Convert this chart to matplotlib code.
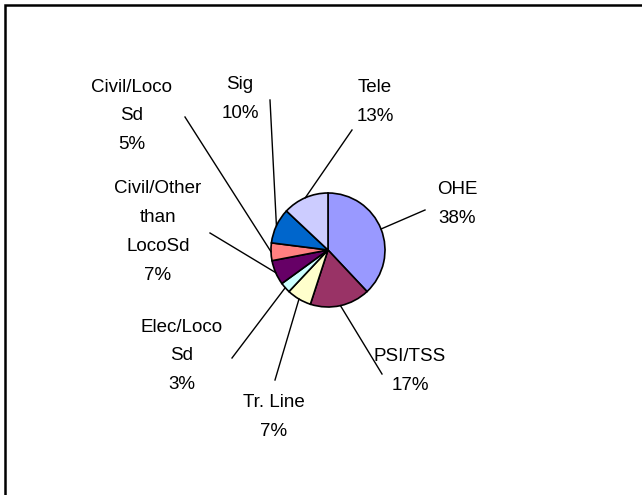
import numpy as np
import matplotlib.pyplot as plt

labels = ["OHE", "PSI/TSS", "Tr. Line", "Elec/Loco\nSd", "Civil/Other\nthan\nLocoSd",
          "Civil/Loco\nSd", "Sig", "Tele"]
shares = [38, 17, 7, 3, 7, 5, 10, 13]
colors = ["#9999FF", "#993366", "#FFFFCC", "#CCFFFF", "#660066", "#FF8080", "#0066CC", "#CCCCFF"]

W, H = 642, 495
# label centres and leader start points, in pixel coords (y from top)
label_pos = [(457, 204), (410, 371), (274, 417), (182, 356), (158, 232), (132, 116), (240, 99), (375, 102)]
leader_start = [(425, 210), (382, 374), (275, 380), (232, 358), (210, 233), (185, 117), (270, 100), (352, 130)]

cx, cy, r = 328, 250, 57


def fy(y):
    return H - y


fig = plt.figure(figsize=(W / 100, H / 100), dpi=100)
ax = fig.add_axes([0, 0, 1, 1])

ax.pie(shares, colors=colors, startangle=90, counterclock=False, center=(cx, fy(cy)), radius=r,
       wedgeprops=dict(edgecolor="black", linewidth=1.2), frame=True)
ax.set_xlim(0, W)
ax.set_ylim(0, H)
ax.set_aspect("auto")
ax.axis("off")

# outer frame: only top and left edges show
ax.plot([5, 5, W + 5], [-5, fy(5), fy(5)], color="black", lw=1.8, solid_joinstyle="miter")

cum = np.cumsum([0] + shares[:-1])
for i, lab in enumerate(labels):
    mid = 90 - (cum[i] + shares[i] / 2) / sum(shares) * 360
    ex = cx + r * np.cos(np.radians(mid))
    ey = fy(cy) + r * np.sin(np.radians(mid))
    sx, sy = leader_start[i]
    ax.plot([sx, ex], [fy(sy), ey], color="black", lw=1)
    lx, ly = label_pos[i]
    ax.text(lx, fy(ly), f"{lab}\n{shares[i]}%", ha="center", va="center",
            fontsize=13.5, family="Liberation Sans", linespacing=1.9)

fig.savefig("out.png", dpi=100)
